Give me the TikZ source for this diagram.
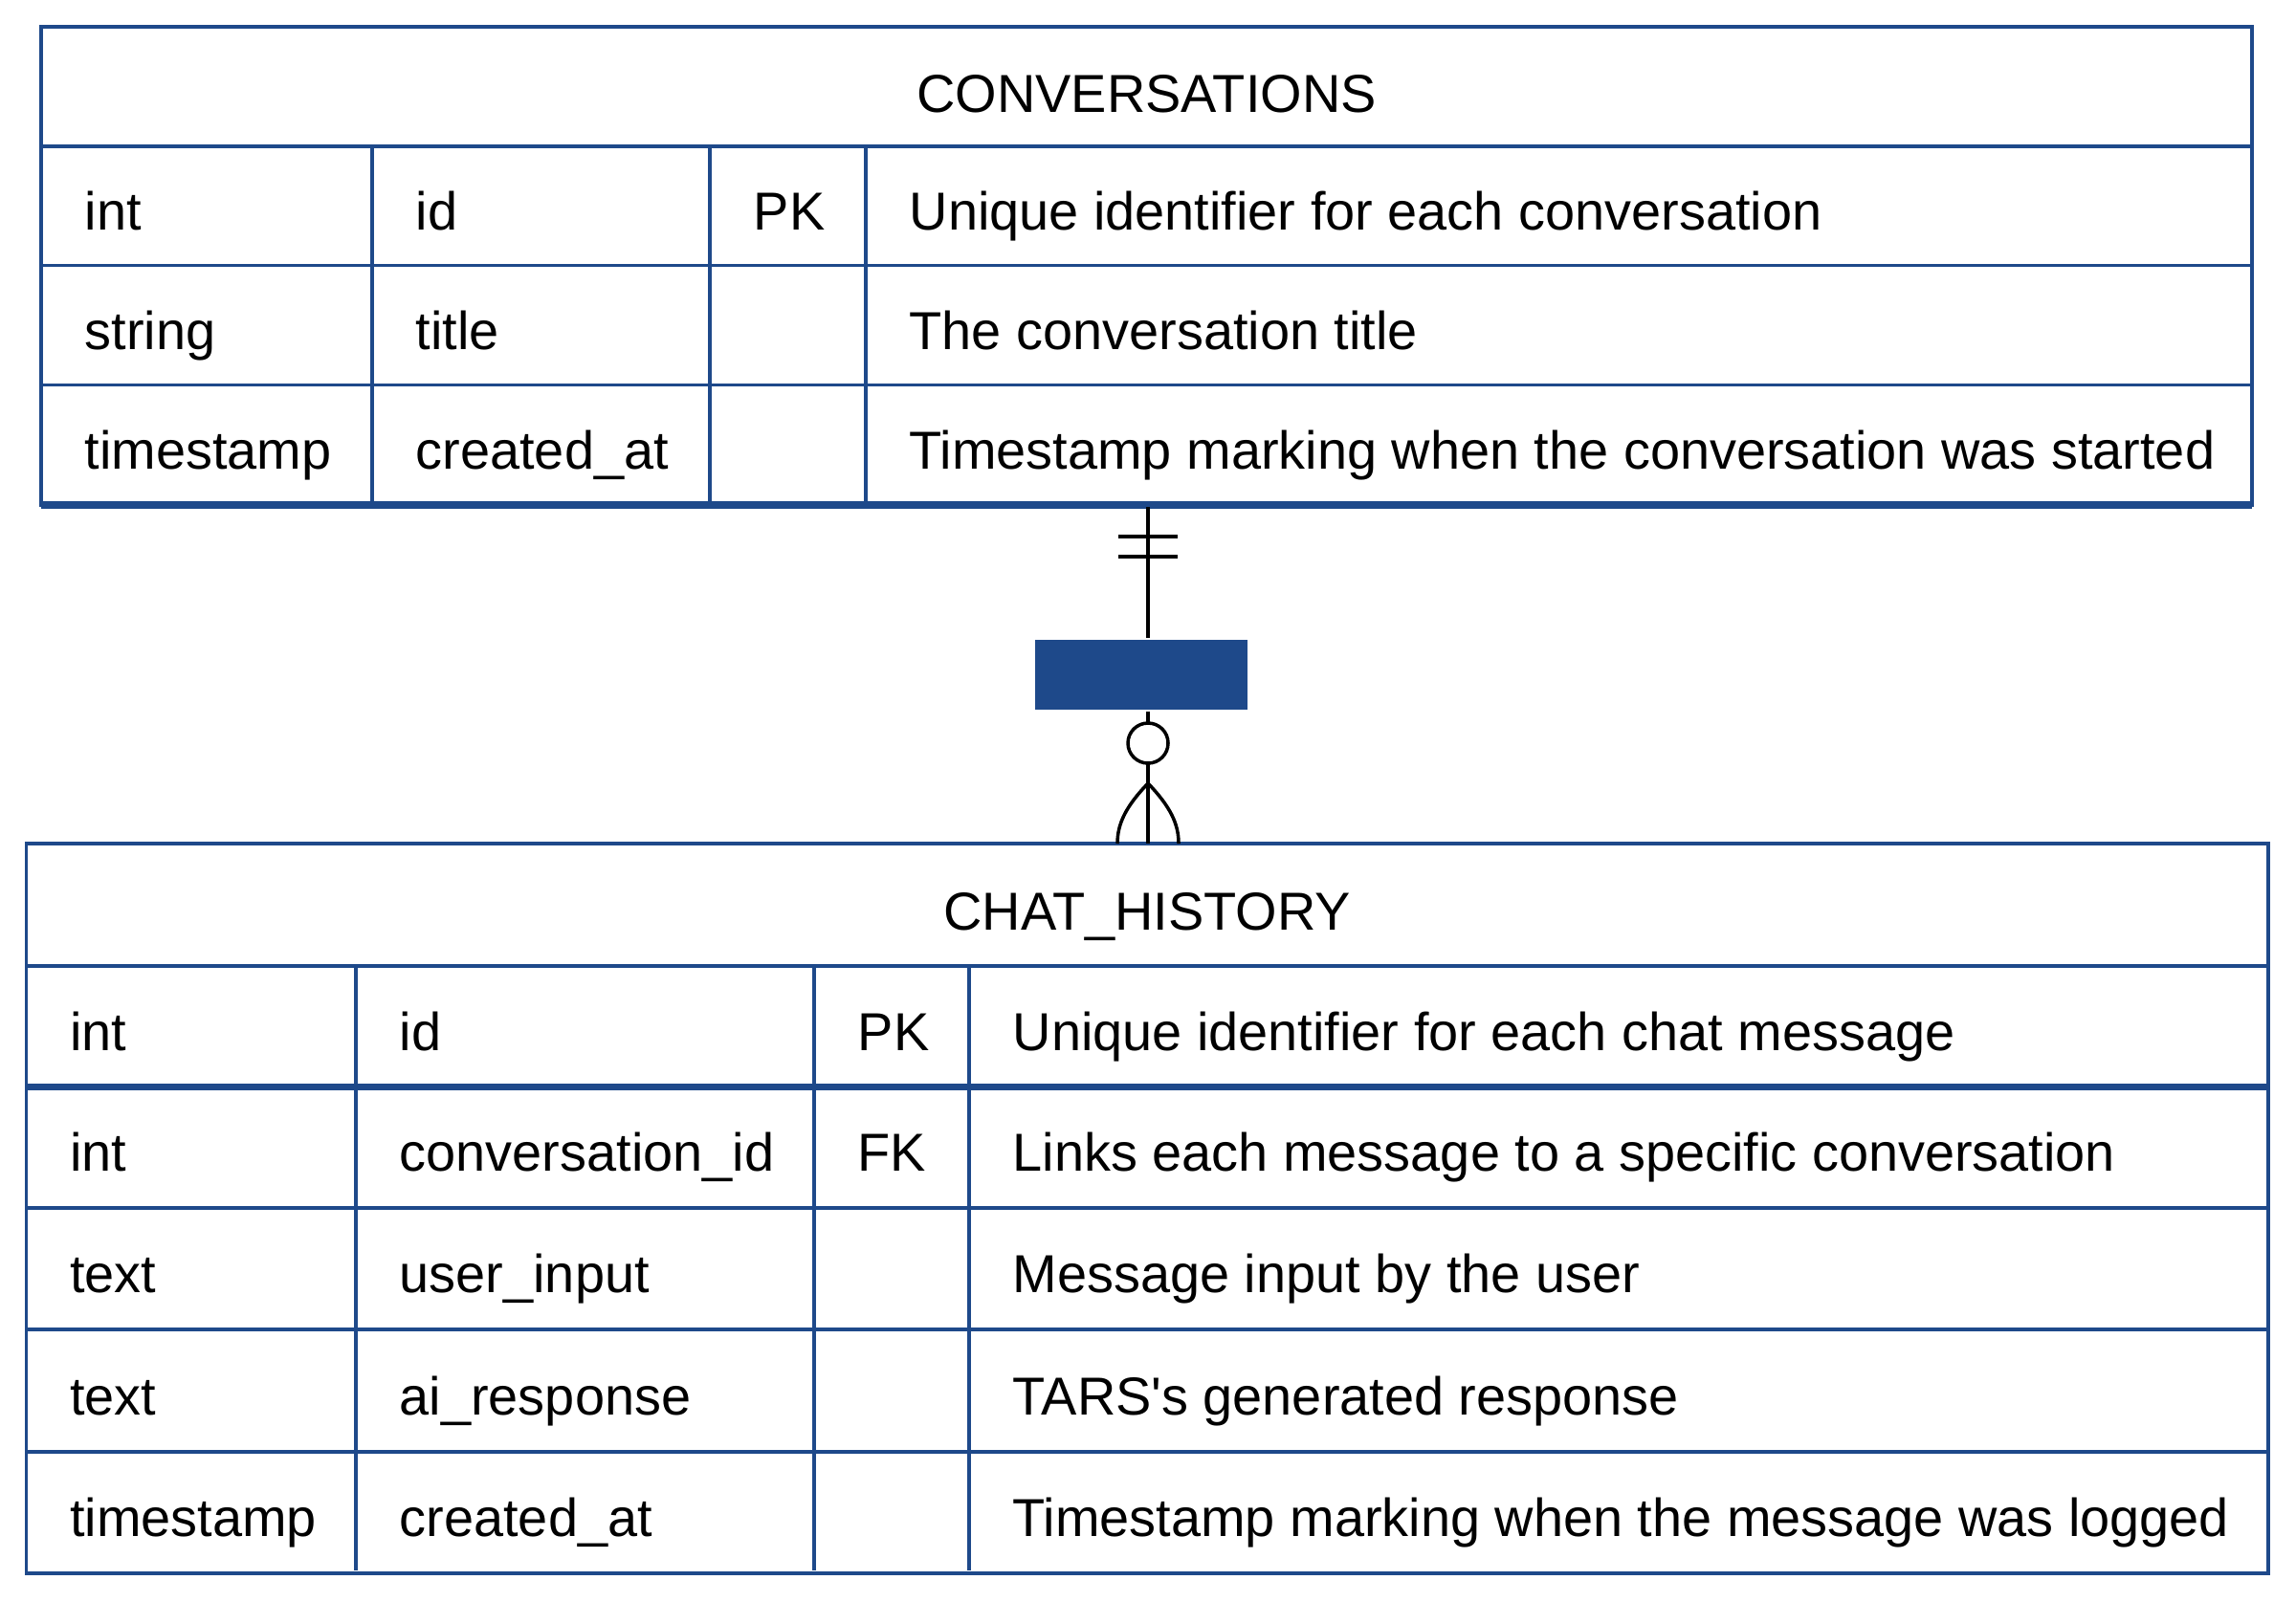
\documentclass[tikz,border=0pt]{standalone}
\usepackage{fontspec}
\setmainfont{Liberation Sans}[Ligatures=TeXOff]
\definecolor{erblue}{RGB}{30,73,138}

\begin{document}
\begin{tikzpicture}[line width=1pt,
  tab/.style={draw=erblue, line width=1pt},
  tabthick/.style={draw=erblue, line width=2pt},
  cell/.style={anchor=base west, inner sep=0pt, font=\fontsize{15.9}{19}\selectfont},
  title/.style={anchor=base, inner sep=0pt, font=\fontsize{15.9}{19}\selectfont},
  rel/.style={fill=erblue, draw=none, minimum width=2.22cm, minimum height=0.73cm, inner sep=0pt}]
\useasboundingbox (0,0) rectangle (24,-16.74);
% CONVERSATIONS
\draw[tab] (0.43,-0.28) rectangle (23.54,-5.28);
\draw[tab] (0.43,-1.53)--(23.54,-1.53);
\draw[tab] (0.43,-2.775)--(23.54,-2.775);
\draw[tab] (0.43,-4.025)--(23.54,-4.025);
\draw[tabthick] (0.43,-5.28)--(23.54,-5.28);
\draw[tab] (3.89,-1.53)--(3.89,-5.28);
\draw[tab] (7.42,-1.53)--(7.42,-5.28);
\draw[tab] (9.05,-1.53)--(9.05,-5.28);
\node[title] (convtitle) at (11.985,-1.17) {CONVERSATIONS};
\node[cell] (convtype1) at (0.87,-2.40) {int};
\node[cell] (convname1) at (4.33,-2.40) {id};
\node[cell] (convkey1) at (7.86,-2.40) {PK};
\node[cell] (convdesc1) at (9.49,-2.40) {Unique identifier for each conversation};
\node[cell] (convtype2) at (0.87,-3.65) {string};
\node[cell] (convname2) at (4.33,-3.65) {title};
\node[cell] (convdesc2) at (9.49,-3.65) {The conversation title};
\node[cell] (convtype3) at (0.87,-4.90) {timestamp};
\node[cell] (convname3) at (4.33,-4.90) {created\_at};
\node[cell] (convdesc3) at (9.49,-4.90) {Timestamp marking when the conversation was started};
% CHAT_HISTORY
\draw[tab] (0.275,-8.82) rectangle (23.71,-16.45);
\draw[tab] (0.275,-10.10)--(23.71,-10.10);
\draw[tabthick] (0.275,-11.36)--(23.71,-11.36);
\draw[tab] (0.275,-12.63)--(23.71,-12.63);
\draw[tab] (0.275,-13.90)--(23.71,-13.90);
\draw[tab] (0.275,-15.18)--(23.71,-15.18);
\draw[tab] (3.72,-10.10)--(3.72,-16.42);
\draw[tab] (8.51,-10.10)--(8.51,-16.42);
\draw[tab] (10.13,-10.10)--(10.13,-16.42);
\node[title] (chattitle) at (11.99,-9.72) {CHAT\_HISTORY};
\node[cell] (chattype1) at (0.715,-10.98) {int};
\node[cell] (chatname1) at (4.16,-10.98) {id};
\node[cell] (chatkey1) at (8.95,-10.98) {PK};
\node[cell] (chatdesc1) at (10.57,-10.98) {Unique identifier for each chat message};
\node[cell] (chattype2) at (0.715,-12.245) {int};
\node[cell] (chatname2) at (4.16,-12.245) {conversation\_id};
\node[cell] (chatkey2) at (8.95,-12.245) {FK};
\node[cell] (chatdesc2) at (10.57,-12.245) {Links each message to a specific conversation};
\node[cell] (chattype3) at (0.715,-13.515) {text};
\node[cell] (chatname3) at (4.16,-13.515) {user\_input};
\node[cell] (chatdesc3) at (10.57,-13.515) {Message input by the user};
\node[cell] (chattype4) at (0.715,-14.79) {text};
\node[cell] (chatname4) at (4.16,-14.79) {ai\_response};
\node[cell] (chatdesc4) at (10.57,-14.79) {TARS's generated response};
\node[cell] (chattype5) at (0.715,-16.065) {timestamp};
\node[cell] (chatname5) at (4.16,-16.065) {created\_at};
\node[cell] (chatdesc5) at (10.57,-16.065) {Timestamp marking when the message was logged};
% relationship
\coordinate (convbot) at (12,-5.30);
\coordinate (chattop) at (12,-8.82);
\node[rel] (hasmsg) at (11.93,-7.055) {};
\coordinate (crow) at (12,-8.19);
\draw[line width=1pt] (convbot)--(hasmsg.north -| convbot);
\draw[line width=1pt] (hasmsg.south -| convbot)--(chattop);
\draw[line width=1pt] (11.69,-5.61)--(12.31,-5.61);
\draw[line width=1pt] (11.69,-5.82)--(12.31,-5.82);
\draw[line width=1pt, fill=white] (12,-7.77) circle (0.21cm);
\draw[line width=1pt] (crow) .. controls (11.76,-8.44) and (11.68,-8.62) .. (11.68,-8.82);
\draw[line width=1pt] (crow) .. controls (12.24,-8.44) and (12.32,-8.62) .. (12.32,-8.82);
\end{tikzpicture}
\end{document}
